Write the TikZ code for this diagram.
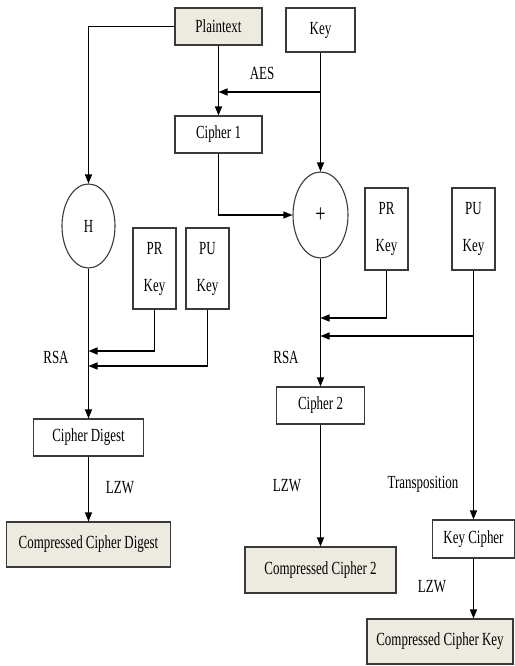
\documentclass[tikz,border=0pt]{standalone}
\usepackage{fontspec}
\setmainfont[FakeStretch=0.7]{Liberation Serif}
\usetikzlibrary{arrows.meta,shapes.geometric}
\definecolor{boxfill}{HTML}{EDEBE0}
\definecolor{boxline}{HTML}{3A3A3A}
\begin{document}
\begin{tikzpicture}[x=1pt,y=-1pt,inner sep=0pt,
  post/.style={-{Triangle[length=9pt,width=7pt]},line width=1.3pt},
  blk/.style={draw=boxline,line width=1.1pt,rectangle,align=center},
  shade/.style={blk,fill=boxfill},
  ell/.style={draw=boxline,line width=1.1pt,ellipse},
  every node/.style={font=\fontsize{18.5}{37}\selectfont}]
\useasboundingbox (0,0) rectangle (514,666);

\node[shade,minimum width=87pt,minimum height=37pt] (pt) at (218.5,26.5) {Plaintext};
\node[blk,minimum width=69pt,minimum height=44pt] (key) at (320.5,30) {Key};
\node[blk,minimum width=87pt,minimum height=37pt] (c1) at (218.5,134.5) {Cipher 1};
\node[ell,minimum width=55pt,minimum height=86pt,font=\fontsize{26}{26}\selectfont] (plus) at (320.5,215) {+};
\node[ell,minimum width=53pt,minimum height=84pt] (h) at (88.5,226) {H};

\node[blk,minimum width=43pt,minimum height=81pt] (prl) at (154.5,268.5) {PR\\Key};
\node[blk,minimum width=43pt,minimum height=81pt] (pul) at (207.5,268.5) {PU\\Key};
\node[blk,minimum width=43pt,minimum height=82pt] (prr) at (386.5,229) {PR\\Key};
\node[blk,minimum width=43pt,minimum height=82pt] (pur) at (473.5,229) {PU\\Key};

\node[blk,minimum width=110pt,minimum height=37pt] (cd) at (88.5,437.5) {Cipher Digest};
\node[shade,minimum width=164pt,minimum height=45pt] (ccd) at (88.5,544.5) {Compressed Cipher Digest};
\node[blk,minimum width=88pt,minimum height=37pt] (c2) at (320.5,405.5) {Cipher 2};
\node[shade,minimum width=151pt,minimum height=46pt] (cc2) at (320.5,570) {Compressed Cipher 2};
\node[blk,minimum width=82pt,minimum height=38pt] (kc) at (473.5,539) {Key Cipher};
\node[shade,minimum width=146pt,minimum height=45pt] (cck) at (440,641.5) {Compressed Cipher Key};

% labels
\node (aes) at (262,73) {AES};
\node (rsal) at (56,357) {RSA};
\node (rsar) at (286,357) {RSA};
\node (lzwl) at (120,488) {LZW};
\node (lzwm) at (287,486) {LZW};
\node (tr) at (423,484) {Transposition};
\node (lzwr) at (432,587) {LZW};

% junctions
\coordinate (j0) at (320.5,92);
\coordinate (j1) at (88.5,351);
\coordinate (j2) at (88.5,366);
\coordinate (j3) at (320.5,318);
\coordinate (j4) at (320.5,336);

\draw[post] (pt) -- (c1);
\draw[post] (key) -- (plus);
\draw[post] (j0) -- (j0 -| c1);
\draw[post] (pt.west) -| (h.north);
\draw[post] (c1.south) |- (plus.west);

\draw[post] (h) -- (cd);
\draw[post] (prl.south) |- (j1);
\draw[post] (pul.south) |- (j2);
\draw[post] (cd) -- (ccd);

\draw[post] (plus) -- (c2);
\draw[post] (prr.south) |- (j3);
\draw[post] (j4 -| pur) -- (j4);
\draw[post] (pur) -- (kc);
\draw[post] (c2) -- (cc2);
\draw[post] (kc) -- (cck.north -| kc);

\end{tikzpicture}
\end{document}
